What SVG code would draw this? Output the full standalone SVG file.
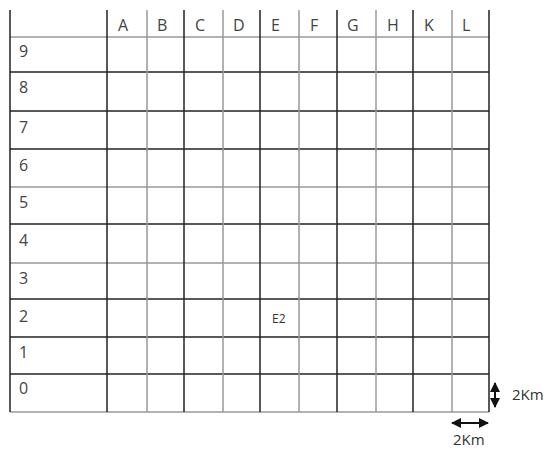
<svg xmlns="http://www.w3.org/2000/svg" width="549" height="450" viewBox="0 0 549 450">
  <style>
    .d { stroke: #222; stroke-width: 1.5; }
    .g { stroke: #999; stroke-width: 1.5; }
    .t { font-family: "Open Sans", "Liberation Sans", sans-serif; font-size: 16px; fill: #444; }
    .s { font-family: "Open Sans", "Liberation Sans", sans-serif; font-size: 12px; fill: #333; }
    .k { font-family: "Open Sans", "Liberation Sans", sans-serif; font-size: 15px; fill: #333; }
  </style>
  <defs>
    <marker id="ah" viewBox="0 0 10 10" refX="9" refY="5" markerWidth="5" markerHeight="5" orient="auto-start-reverse" markerUnits="strokeWidth">
      <path d="M0,0 L10,5 L0,10 z" fill="#111"/>
    </marker>
  </defs>
  <rect width="549" height="450" fill="#fff"/>
  <g id="grid">
    <line class="g" x1="10" y1="37" x2="489" y2="37"/>
    <line class="d" x1="10" y1="72" x2="489" y2="72"/>
    <line class="d" x1="10" y1="111" x2="489" y2="111"/>
    <line class="d" x1="10" y1="149" x2="489" y2="149"/>
    <line class="g" x1="10" y1="187" x2="489" y2="187"/>
    <line class="d" x1="10" y1="224" x2="489" y2="224"/>
    <line class="g" x1="10" y1="263" x2="489" y2="263"/>
    <line class="d" x1="10" y1="299" x2="489" y2="299"/>
    <line class="d" x1="10" y1="337" x2="489" y2="337"/>
    <line class="d" x1="10" y1="374" x2="489" y2="374"/>
    <line class="g" x1="10" y1="412" x2="489" y2="412"/>
    <line class="d" x1="10" y1="10" x2="10" y2="412"/>
    <line class="d" x1="107" y1="10" x2="107" y2="412"/>
    <line class="g" x1="147" y1="10" x2="147" y2="412"/>
    <line class="d" x1="184" y1="10" x2="184" y2="412"/>
    <line class="g" x1="223" y1="10" x2="223" y2="412"/>
    <line class="d" x1="260" y1="10" x2="260" y2="412"/>
    <line class="g" x1="299" y1="10" x2="299" y2="412"/>
    <line class="d" x1="337" y1="10" x2="337" y2="412"/>
    <line class="g" x1="376" y1="10" x2="376" y2="412"/>
    <line class="d" x1="413" y1="10" x2="413" y2="412"/>
    <line class="g" x1="452" y1="10" x2="452" y2="412"/>
    <line class="d" x1="489" y1="10" x2="489" y2="412"/>
  </g>
  <g id="col-labels">
    <text class="t" x="118" y="31">A</text>
    <text class="t" x="157" y="31">B</text>
    <text class="t" x="195" y="31">C</text>
    <text class="t" x="233" y="31">D</text>
    <text class="t" x="271" y="31">E</text>
    <text class="t" x="310" y="31">F</text>
    <text class="t" x="347" y="31">G</text>
    <text class="t" x="387" y="31">H</text>
    <text class="t" x="424" y="31">K</text>
    <text class="t" x="462" y="31">L</text>
  </g>
  <g id="row-labels">
    <text class="t" x="19" y="57">9</text>
    <text class="t" x="19" y="93">8</text>
    <text class="t" x="19" y="133">7</text>
    <text class="t" x="19" y="171">6</text>
    <text class="t" x="19" y="208">5</text>
    <text class="t" x="19" y="246">4</text>
    <text class="t" x="19" y="284">3</text>
    <text class="t" x="19" y="322">2</text>
    <text class="t" x="19" y="358">1</text>
    <text class="t" x="19" y="394">0</text>
  </g>
  <g id="cell-E2">
    <text class="s" x="272" y="323">E2</text>
  </g>
  <g id="connectors">
    <line x1="495" y1="383" x2="495" y2="407" stroke="#111" stroke-width="2" marker-start="url(#ah)" marker-end="url(#ah)"/>
    <line x1="452" y1="423" x2="488" y2="423" stroke="#111" stroke-width="2" marker-start="url(#ah)" marker-end="url(#ah)"/>
  </g>
  <g id="scale-labels">
    <text class="k" x="512" y="400">2Km</text>
    <text class="k" x="453" y="445">2Km</text>
  </g>
</svg>
